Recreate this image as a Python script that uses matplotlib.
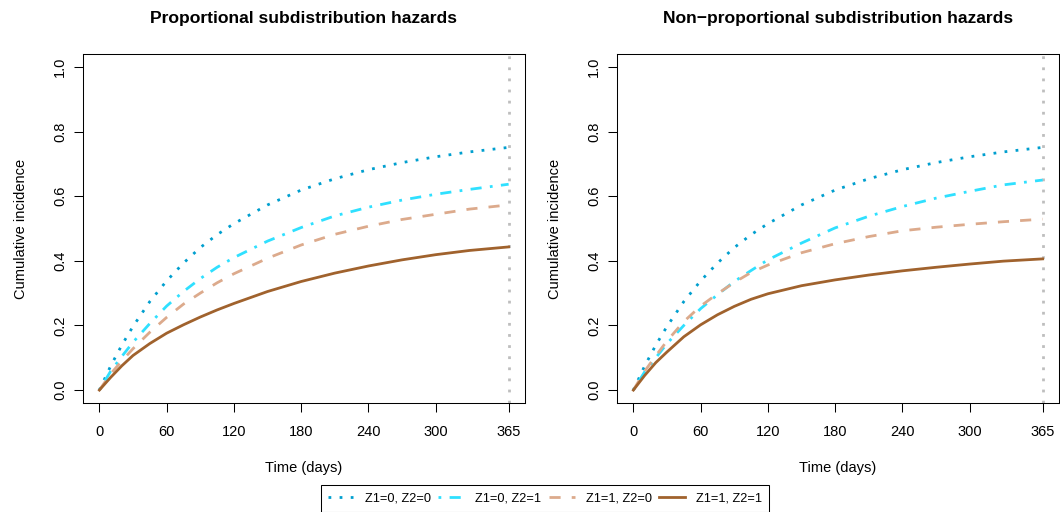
import matplotlib
matplotlib.use("Agg")
import matplotlib.pyplot as plt
from matplotlib.lines import Line2D

plt.rcParams['font.family'] = ['Liberation Sans', 'DejaVu Sans']

days = [0, 10, 20, 30, 45, 60, 75, 90, 105, 120, 150, 180, 210, 240, 270, 300, 330, 365]

# proportional subdistribution hazards
prop_00 = [0, 0.074, 0.139, 0.197, 0.274, 0.338, 0.393, 0.441, 0.481, 0.515, 0.573, 0.619, 0.654, 0.682, 0.704, 0.722, 0.737, 0.751]
prop_01 = [0, 0.058, 0.104, 0.148, 0.206, 0.260, 0.305, 0.345, 0.380, 0.410, 0.461, 0.503, 0.539, 0.566, 0.588, 0.606, 0.621, 0.637]
prop_10 = [0, 0.050, 0.090, 0.128, 0.179, 0.225, 0.266, 0.300, 0.332, 0.360, 0.408, 0.449, 0.482, 0.507, 0.528, 0.544, 0.560, 0.573]
prop_11 = [0, 0.039, 0.075, 0.107, 0.144, 0.176, 0.202, 0.226, 0.248, 0.268, 0.305, 0.336, 0.362, 0.384, 0.403, 0.419, 0.432, 0.443]

# non-proportional subdistribution hazards
nonp_00 = [0, 0.074, 0.139, 0.197, 0.274, 0.338, 0.393, 0.441, 0.481, 0.515, 0.573, 0.619, 0.654, 0.682, 0.704, 0.722, 0.737, 0.751]
nonp_01 = [0, 0.056, 0.100, 0.144, 0.200, 0.252, 0.295, 0.336, 0.370, 0.403, 0.455, 0.502, 0.538, 0.568, 0.594, 0.615, 0.635, 0.650]
nonp_10 = [0, 0.058, 0.106, 0.152, 0.212, 0.260, 0.298, 0.333, 0.364, 0.387, 0.425, 0.453, 0.475, 0.493, 0.504, 0.513, 0.521, 0.529]
nonp_11 = [0, 0.045, 0.085, 0.118, 0.165, 0.202, 0.233, 0.259, 0.281, 0.298, 0.323, 0.341, 0.356, 0.369, 0.380, 0.390, 0.399, 0.406]

labels = ['Z1=0, Z2=0', 'Z1=0, Z2=1', 'Z1=1, Z2=0', 'Z1=1, Z2=1']
colors = ['#009FCF', '#2FE0FF', '#DCAA8C', '#A0622D']
styles = [(0, (1, 3)), (0, (1, 3, 4, 3)), (0, (4, 4)), '-']

x_ticks = [0, 60, 120, 180, 240, 300, 365]
y_ticks = [0.0, 0.2, 0.4, 0.6, 0.8, 1.0]

titles = ['Proportional subdistribution hazards', 'Non\u2212proportional subdistribution hazards']
panels = [[prop_00, prop_01, prop_10, prop_11], [nonp_00, nonp_01, nonp_10, nonp_11]]

W, H = 1060, 512
fig = plt.figure(figsize=(W / 100, H / 100), dpi=100)
lefts = [83, 617]

for k in range(2):
    ax = fig.add_axes([lefts[k] / W, (H - 403) / H, 442 / W, 349 / H])
    ax.axvline(365, color='#BEBEBE', lw=2, ls=(0, (1, 3)))
    for series, c, s in zip(panels[k], colors, styles):
        ax.plot(days, series, color=c, ls=s, lw=2)
    ax.set_xlim(-14.6, 379.6)
    ax.set_ylim(-0.04, 1.04)
    ax.set_xticks(x_ticks)
    ax.set_xticklabels([str(t) for t in x_ticks], fontsize=10.5)
    ax.set_yticks(y_ticks)
    ax.set_yticklabels(['%.1f' % v for v in y_ticks], fontsize=10.5, rotation=90, va='center')
    ax.tick_params(axis='x', direction='out', length=6.5, width=0.75, pad=9)
    ax.tick_params(axis='y', direction='out', length=6.5, width=0.75, pad=5)
    for sp in ax.spines.values():
        sp.set_linewidth(0.75)
    ax.set_xlabel('Time (days)', fontsize=10.5, labelpad=16)
    ax.set_ylabel('Cumulative incidence', fontsize=10.5, labelpad=18)
    ax.set_title(titles[k], fontsize=12.6, fontweight='bold', pad=22)

handles = [Line2D([], [], color=c, ls=s, lw=2) for c, s in zip(colors, styles)]
leg = fig.legend(handles, labels, loc='upper center', bbox_to_anchor=(545 / W, 1 - 484.5 / H),
                 ncol=4, fontsize=9.2, frameon=True, fancybox=False, framealpha=1,
                 edgecolor='black', handlelength=2.1, handletextpad=0.8, columnspacing=0.55,
                 borderpad=0.6, borderaxespad=0)
leg.get_frame().set_linewidth(0.75)

fig.savefig('out.png', dpi=100)
